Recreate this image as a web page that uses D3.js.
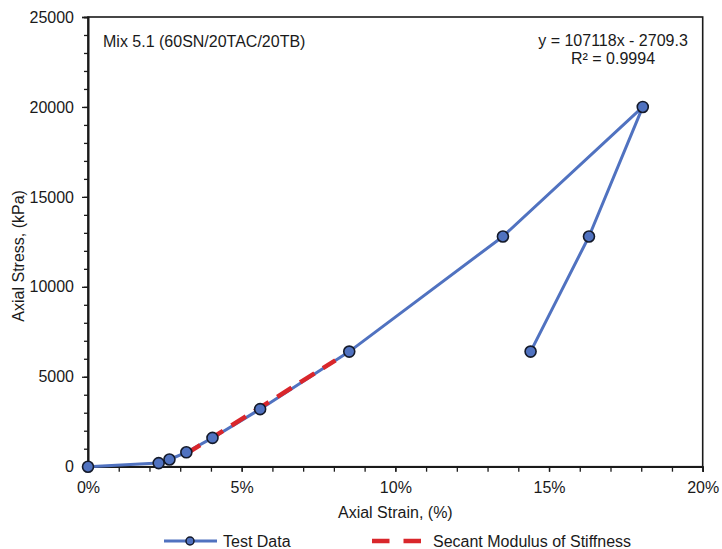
<!DOCTYPE html>
<html><head><meta charset="utf-8">
<script src="https://cdn.jsdelivr.net/npm/d3@7"></script>
<style>
body{margin:0;background:#fff;}
svg{display:block;font-family:"Liberation Sans",Arial,sans-serif;}
</style></head>
<body><svg id="c" width="722" height="549"></svg>
<script>
// Data
const strain = [0, 2.3, 2.65, 3.2, 4.05, 5.6, 8.5, 13.5, 18.05, 16.3, 14.4];
const stress = [0, 200, 400, 800, 1600, 3200, 6400, 12800, 20000, 12800, 6400];
const secantStrain = [3.18, 8.05];
const secantStress = [697, 5914];
const xMajorTicks = [0, 5, 10, 15, 20];
const xTickLabels = ["0%", "5%", "10%", "15%", "20%"];
const yMajorTicks = [0, 5000, 10000, 15000, 20000, 25000];
const yTickLabels = ["0", "5000", "10000", "15000", "20000", "25000"];
const xMinorTicks = d3.range(0, 21, 1);
const yMinorTicks = d3.range(0, 25001, 1000);
const annotation = "Mix 5.1 (60SN/20TAC/20TB)";
const equation = ["y = 107118x - 2709.3", "R² = 0.9994"];
const legendLabels = ["Test Data", "Secant Modulus of Stiffness"];

const blue = "#5072c0", red = "#d9262b", ink = "#1a1a1a";
const m = {l: 88, r: 19.3, t: 17, b: 82.3};
const W = 722, H = 549;
const svg = d3.select("#c");
const x = d3.scaleLinear().domain([0, 20]).range([m.l, W - m.r]);
const y = d3.scaleLinear().domain([0, 25000]).range([H - m.b, m.t]);

// frame
svg.append("rect").attr("x", x(0)).attr("y", y(25000))
  .attr("width", x(20) - x(0)).attr("height", y(0) - y(25000))
  .attr("fill", "none").attr("stroke", ink).attr("stroke-width", 1.6);

// minor ticks
const xMinor = svg.append("g").attr("transform", `translate(0,${y(0)})`)
  .call(d3.axisBottom(x).tickValues(xMinorTicks).tickSize(5).tickFormat(""));
const yMinor = svg.append("g").attr("transform", `translate(${x(0)},0)`)
  .call(d3.axisLeft(y).tickValues(yMinorTicks).tickSize(4).tickFormat(""));
// major ticks
const xAx = svg.append("g").attr("transform", `translate(0,${y(0)})`)
  .call(d3.axisBottom(x).tickValues(xMajorTicks).tickSize(5).tickPadding(10)
    .tickFormat((d, i) => xTickLabels[i]));
const yAx = svg.append("g").attr("transform", `translate(${x(0)},0)`)
  .call(d3.axisLeft(y).tickValues(yMajorTicks).tickSize(6).tickPadding(8)
    .tickFormat((d, i) => yTickLabels[i]));
[xMinor, yMinor, xAx, yAx].forEach(g => {
  g.select(".domain").attr("stroke", ink).attr("stroke-width", 1.6);
  g.selectAll(".tick line").attr("stroke", ink).attr("stroke-width", 1.3);
  g.selectAll("text").attr("fill", ink).attr("font-size", 16)
    .attr("font-family", "'Liberation Sans',Arial,sans-serif");
});

// axis titles
svg.append("text").attr("x", (x(0) + x(20)) / 2).attr("y", 518)
  .attr("text-anchor", "middle").attr("font-size", 16).attr("fill", ink)
  .text("Axial Strain, (%)");
svg.append("text").attr("transform", `translate(24,${(y(0) + y(25000)) / 2 + 14}) rotate(-90)`)
  .attr("text-anchor", "middle").attr("font-size", 16).attr("fill", ink)
  .text("Axial Stress, (kPa)");

// annotations
svg.append("text").attr("x", 103).attr("y", 47).attr("font-size", 16).attr("fill", ink)
  .text(annotation);
equation.forEach((t, i) => {
  svg.append("text").attr("x", 613).attr("y", 46 + i * 18).attr("text-anchor", "middle")
    .attr("font-size", 16).attr("fill", ink).text(t);
});

// test data line
const pts = strain.map((s, i) => [s, stress[i]]);
const line = d3.line().x(d => x(d[0])).y(d => y(d[1]));
svg.append("path").datum(pts).attr("d", line).attr("fill", "none")
  .attr("stroke", blue).attr("stroke-width", 3).attr("stroke-linejoin", "round");

// secant line
const sec = secantStrain.map((s, i) => [s, secantStress[i]]);
svg.append("path").datum(sec).attr("d", line).attr("fill", "none")
  .attr("stroke", red).attr("stroke-width", 4.5).attr("stroke-dasharray", "17,10");

// markers
svg.append("g").selectAll("circle").data(pts).join("circle")
  .attr("cx", d => x(d[0])).attr("cy", d => y(d[1])).attr("r", 5.5)
  .attr("fill", blue).attr("stroke", "#141a2a").attr("stroke-width", 1.6);

// legend
const ly = 541;
svg.append("line").attr("x1", 164).attr("x2", 217).attr("y1", ly).attr("y2", ly)
  .attr("stroke", blue).attr("stroke-width", 3);
svg.append("circle").attr("cx", 190).attr("cy", ly).attr("r", 4)
  .attr("fill", blue).attr("stroke", "#141a2a").attr("stroke-width", 1.5);
svg.append("text").attr("x", 223).attr("y", ly + 6).attr("font-size", 16).attr("fill", ink)
  .text(legendLabels[0]);
svg.append("line").attr("x1", 372).attr("x2", 421).attr("y1", ly).attr("y2", ly)
  .attr("stroke", red).attr("stroke-width", 4.5).attr("stroke-dasharray", "17.5,14");
svg.append("text").attr("x", 433).attr("y", ly + 6).attr("font-size", 16).attr("fill", ink)
  .text(legendLabels[1]);
</script></body></html>
